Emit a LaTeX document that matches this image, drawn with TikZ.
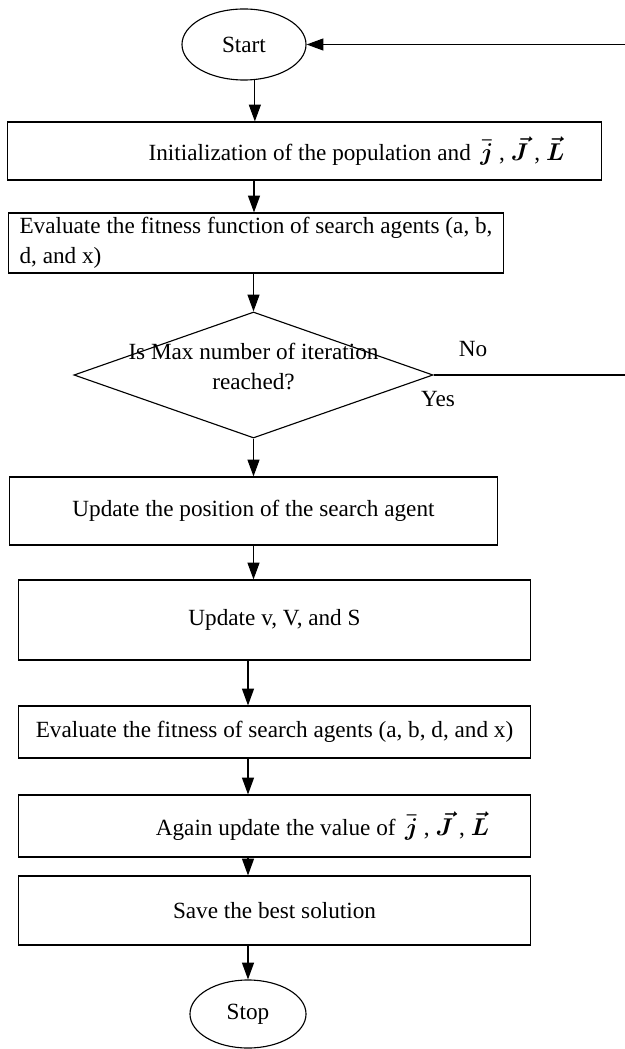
\documentclass[tikz,border=0pt]{standalone}
\usepackage{fontspec}
\setmainfont{Liberation Serif}
\usepackage{amsmath}
\usepackage{tikz}
\usetikzlibrary{shapes.geometric, arrows.meta, positioning, calc}

\begin{document}
\begin{tikzpicture}[
  x=0.025cm, y=-0.025cm,
  txt/.style={font=\fontsize{16.5}{21.3}\selectfont},
  pbox/.style={draw, txt, rectangle, inner sep=0pt, line width=0.8pt},
  term/.style={draw, txt, ellipse, inner sep=0pt, line width=0.8pt},
  cond/.style={draw, txt, diamond, inner sep=0pt, shape aspect=2.85, line width=0.8pt, minimum width=8.975cm, minimum height=3.15cm},
  arr/.style={line width=0.8pt, -{Triangle[length=0.42cm, width=0.3cm]}}
]
  \useasboundingbox (0,0) rectangle (624,1049);

  \node[term, minimum width=3.1cm, minimum height=1.775cm] (start) at (244,44.5) {Start};
  \node[pbox, minimum width=14.825cm, minimum height=1.45cm] (init) at (304.5,151)
    {\hspace*{2.6cm}Initialization of the population and\ \,$\boldsymbol{\bar{j}}$ , $\boldsymbol{\vec{J}}$ , $\boldsymbol{\vec{L}}$};
  \node[pbox, align=left, minimum width=12.35cm, minimum height=1.5cm] (eval1) at (256,243)
    {Evaluate the fitness function of search agents (a, b,\\d, and x)};
  \node[cond] (decide) at (253.5,375)
    {\smash{\begin{tabular}{@{}c@{}}Is Max number of iteration\\reached?\end{tabular}}};
  \node[pbox, minimum width=12.175cm, minimum height=1.7cm] (upd1) at (253.5,511)
    {Update the position of the search agent};
  \node[pbox, minimum width=12.775cm, minimum height=2cm] (upd2) at (274.5,620)
    {Update v, V, and S};
  \node[pbox, minimum width=12.775cm, minimum height=1.3cm] (eval2) at (274.5,732)
    {Evaluate the fitness of search agents (a, b, d, and x)};
  \node[pbox, minimum width=12.775cm, minimum height=1.55cm] (again) at (274.5,826)
    {\hspace*{2.4cm}Again update the value of\ \,$\boldsymbol{\bar{j}}$ , $\boldsymbol{\vec{J}}$ , $\boldsymbol{\vec{L}}$};
  \node[pbox, minimum width=12.775cm, minimum height=1.725cm] (save) at (274.5,910.5)
    {Save the best solution};
  \node[term, minimum width=2.9cm, minimum height=1.7cm] (stop) at (248,1014) {Stop};

  \node[txt] (no) at (473,349) {No};
  \node[txt] (yes) at (438,399) {Yes};

  % main flow
  \coordinate (axis) at (254,0);
  \coordinate (loop) at (628,0);
  \draw[arr] (start.-73) -- (start.-73 |- init.north);
  \draw[arr] (axis |- init.south) -- (axis |- eval1.north);
  \draw[arr] (decide.north |- eval1.south) -- (decide.north);
  \draw[arr] (decide.south) -- (upd1.north);
  \draw[arr] (upd1.south) -- (upd1.south |- upd2.north);
  \draw[arr] (stop.north |- upd2.south) -- (stop.north |- eval2.north);
  \draw[arr] (stop.north |- eval2.south) -- (stop.north |- again.north);
  \draw[arr] (stop.north |- again.south) -- (stop.north |- save.north);
  \draw[arr] (stop.north |- save.south) -- (stop.north);

  % back to start
  \draw[arr] (decide.east) -- (decide.east -| loop) |- (start.east);
\end{tikzpicture}
\end{document}
